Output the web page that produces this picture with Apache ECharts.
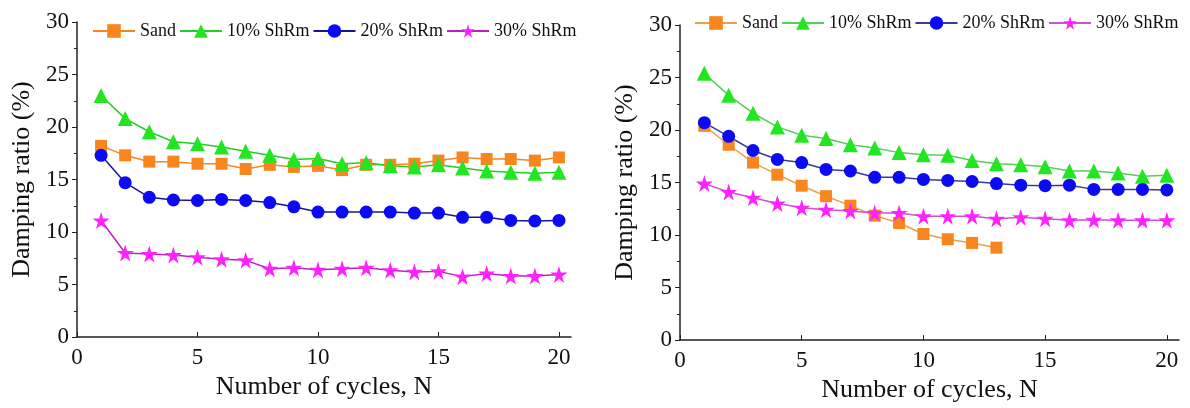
<!DOCTYPE html>
<html>
<head>
<meta charset="utf-8">
<script src="https://cdn.jsdelivr.net/npm/echarts@6/dist/echarts.min.js"></script>
<style>
body{margin:0;background:#fff;}
#left,#right{position:absolute;top:0;width:595px;height:408px;}
#left{left:0;}
#right{left:595px;}
</style>
</head>
<body>
<div id="left"></div>
<div id="right"></div>
<script>
var cycles = [1,2,3,4,5,6,7,8,9,10,11,12,13,14,15,16,17,18,19,20];
var names = ['Sand','10% ShRm','20% ShRm','30% ShRm'];
var xTicks = [0,5,10,15,20];

// left panel
var leftSand = [18.2,17.3,16.7,16.7,16.5,16.5,16.0,16.4,16.2,16.3,15.9,16.4,16.4,16.5,16.8,17.1,16.95,16.95,16.8,17.1];
var left10 = [23.0,20.8,19.55,18.6,18.4,18.1,17.7,17.3,16.9,17.0,16.5,16.6,16.3,16.2,16.4,16.1,15.8,15.7,15.6,15.7];
var left20 = [17.3,14.7,13.3,13.05,13.0,13.1,13.0,12.8,12.4,11.9,11.9,11.9,11.9,11.8,11.8,11.4,11.4,11.1,11.05,11.1];
var left30 = [11.1,8.0,7.9,7.8,7.6,7.4,7.3,6.5,6.6,6.4,6.5,6.6,6.35,6.2,6.25,5.75,6.05,5.8,5.8,5.95];

// right panel
var rightSand = [20.4,18.6,16.9,15.75,14.7,13.7,12.8,11.85,11.15,10.1,9.6,9.25,8.8];
var right10 = [25.4,23.3,21.6,20.3,19.5,19.2,18.6,18.3,17.85,17.65,17.6,17.1,16.8,16.7,16.5,16.1,16.1,15.9,15.6,15.7];
var right20 = [20.7,19.4,18.05,17.2,16.9,16.25,16.1,15.5,15.5,15.3,15.2,15.1,14.9,14.75,14.7,14.75,14.35,14.35,14.35,14.3];
var right30 = [14.9,14.1,13.55,13.0,12.6,12.4,12.3,12.1,12.1,11.8,11.8,11.8,11.55,11.7,11.55,11.4,11.45,11.4,11.4,11.4];

var FONT = '"Liberation Serif","Times New Roman",serif';
var STAR = 'path://M50,0 L61,35 L98,35 L68,57 L79,92 L50,70 L21,92 L32,57 L2,35 L39,35 Z';

function pairs(vals){
    return vals.map(function(v,i){ return [cycles[i], v]; });
}

function mkSeries(name, vals, symbol, size, mColor, lColor){
    return {
        name: name,
        type: 'line',
        data: pairs(vals),
        symbol: symbol,
        symbolSize: size,
        itemStyle: {color: mColor},
        lineStyle: {color: lColor, width: 1.5},
        emphasis: {disabled: true}
    };
}

function mkOption(g, legendPos, lists, lineCols){
    return {
        animation: false,
        textStyle: {fontFamily: FONT},
        legend: {
            left: legendPos[0], top: legendPos[1],
            itemWidth: 42, itemHeight: 17, itemGap: 3,
            data: names,
            textStyle: {fontFamily: FONT, fontSize: 18, color: '#111'}
        },
        grid: {left: g[0], top: g[1], width: g[2], height: g[3]},
        xAxis: {
            type: 'value', min: 0, max: 20.5,
            name: 'Number of cycles, N', nameLocation: 'middle', nameGap: 36,
            nameTextStyle: {fontFamily: FONT, fontSize: 26, color: '#111'},
            axisLine: {lineStyle: {color: '#222', width: 1.5}},
            axisTick: {inside: true, length: 5, customValues: xTicks, lineStyle: {color: '#222'}},
            axisLabel: {customValues: xTicks, margin: 9, fontFamily: FONT, fontSize: 23, color: '#111'},
            splitLine: {show: false}
        },
        yAxis: {
            type: 'value', min: 0, max: 30, interval: 5,
            name: 'Damping ratio (%)', nameLocation: 'middle', nameGap: 41, nameRotate: 90,
            nameTextStyle: {fontFamily: FONT, fontSize: 26, color: '#111'},
            axisLine: {show: true, lineStyle: {color: '#222', width: 1.5}},
            axisTick: {show: true, length: 5, lineStyle: {color: '#222'}},
            minorTick: {show: true, splitNumber: 2, length: 3, lineStyle: {color: '#222'}},
            axisLabel: {margin: 8, fontFamily: FONT, fontSize: 23, color: '#111'},
            splitLine: {show: false}
        },
        series: [
            mkSeries(names[0], lists[0], 'rect', 12, '#f7861e', lineCols[0]),
            mkSeries(names[1], lists[1], 'triangle', 15, '#22e622', lineCols[1]),
            mkSeries(names[2], lists[2], 'circle', 13, '#0a0af5', lineCols[2]),
            mkSeries(names[3], lists[3], STAR, 17, '#ff22ff', lineCols[3])
        ]
    };
}

var c1 = echarts.init(document.getElementById('left'));
c1.setOption(mkOption([77, 22, 494, 315], [87, 17],
    [leftSand, left10, left20, left30],
    ['#f7861e', '#22d022', '#15159a', '#c020c0']));

var c2 = echarts.init(document.getElementById('right'));
c2.setOption(mkOption([85, 25, 499, 318], [94, 9],
    [rightSand, right10, right20, right30],
    ['#e8a050', '#55d055', '#3a3a9a', '#d050d0']));
</script>
</body>
</html>
